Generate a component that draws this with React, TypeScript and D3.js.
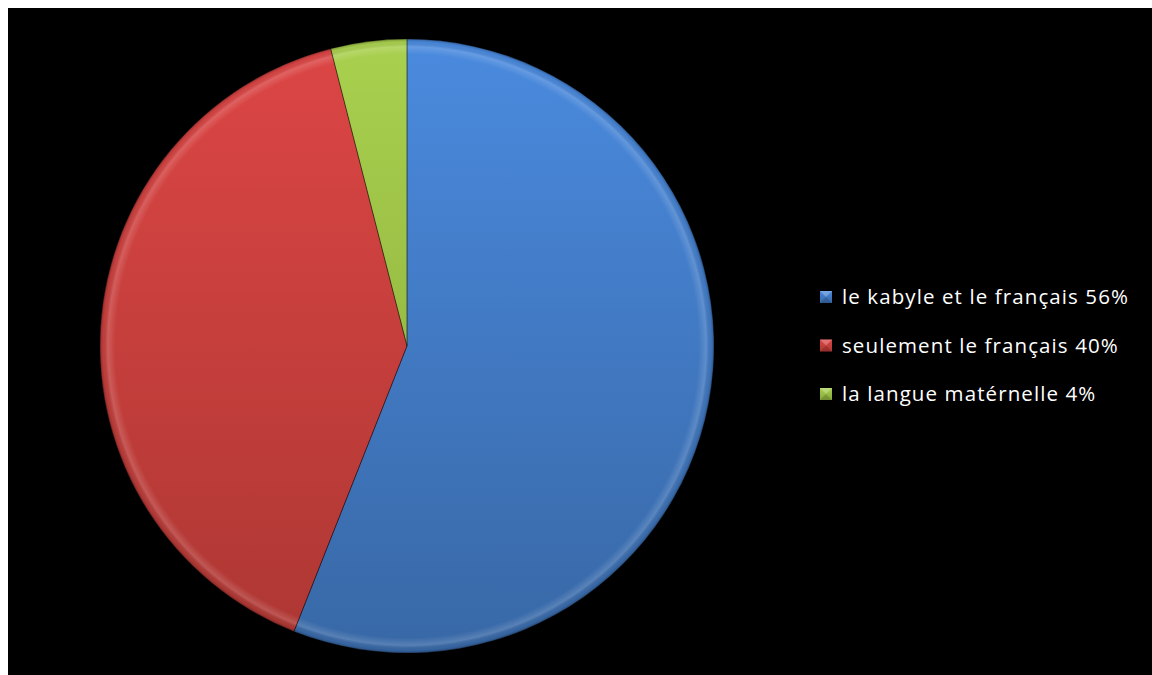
import React from "react";
import * as d3 from "d3";

const categories = ["le kabyle et le français", "seulement le français", "la langue matérnelle"];
const values = [56, 40, 4];
const topColors = ["#4a8ade", "#dc4645", "#a9d04e"];
const bottomColors = ["#3868a6", "#ad3733", "#86a83a"];

const W = 1144;
const H = 667;
const cx = 399;
const cy = 338;
const R = 307;

export default function App() {
  const pie = d3.pie<number>().sort(null).value((d) => d);
  const arcs = pie(values);
  const arcGen = d3.arc<d3.PieArcDatum<number>>().innerRadius(0).outerRadius(R);
  const legendY = d3.scalePoint<string>().domain(categories).range([289, 386]);

  return (
    <svg
      width={W}
      height={H}
      style={{ position: "absolute", left: 8, top: 8, display: "block" }}
    >
      <defs>
        {categories.map((c, i) => (
          <linearGradient
            key={c}
            id={`g${i}`}
            gradientUnits="userSpaceOnUse"
            x1={0}
            y1={-R}
            x2={0}
            y2={R}
          >
            <stop offset="0" stopColor={topColors[i]} />
            <stop offset="1" stopColor={bottomColors[i]} />
          </linearGradient>
        ))}
        <radialGradient id="rim" gradientUnits="userSpaceOnUse" cx={0} cy={0} r={R}>
          <stop offset="0.95" stopColor="#fff" stopOpacity="0" />
          <stop offset="0.975" stopColor="#fff" stopOpacity="0.16" />
          <stop offset="0.99" stopColor="#000" stopOpacity="0.03" />
          <stop offset="1" stopColor="#000" stopOpacity="0.25" />
        </radialGradient>
        {categories.map((c, i) => (
          <linearGradient key={`m${c}`} id={`m${i}`} x1="0" y1="0" x2="0" y2="1">
            <stop offset="0" stopColor={topColors[i]} />
            <stop offset="1" stopColor={bottomColors[i]} />
          </linearGradient>
        ))}
      </defs>
      <rect x={0} y={0} width={W} height={H} fill="#000" />
      <g transform={`translate(${cx},${cy})`}>
        {arcs.map((a, i) => (
          <path key={`f${i}`} d={arcGen(a) || ""} fill={`url(#g${i})`} />
        ))}
        {arcs.map((a, i) => (
          <path key={`r${i}`} d={arcGen(a) || ""} fill="url(#rim)" />
        ))}
        {arcs.map((a, i) => (
          <path
            key={`o${i}`}
            d={arcGen(a) || ""}
            fill="none"
            stroke="#000"
            strokeOpacity={0.3}
            strokeWidth={1}
          />
        ))}
      </g>
      {categories.map((c, i) => {
        const y = legendY(c) as number;
        return (
          <g key={`l${c}`}>
            <rect x={812} y={y - 6} width={12} height={12} fill={`url(#m${i})`} />
            <path
              d={`M${812},${y - 6}L${818},${y}L${824},${y - 6}Z`}
              fill="#fff"
              fillOpacity={0.25}
            />
            <path
              d={`M${812},${y + 6}L${818},${y}L${824},${y + 6}Z`}
              fill="#000"
              fillOpacity={0.15}
            />
            <text
              x={834}
              y={y}
              dy="0.35em"
              fill="#fff"
              fontFamily="'Open Sans', sans-serif"
              fontSize={20.5}
              letterSpacing={1.1}
            >
              {`${c} ${values[i]}%`}
            </text>
          </g>
        );
      })}
    </svg>
  );
}
